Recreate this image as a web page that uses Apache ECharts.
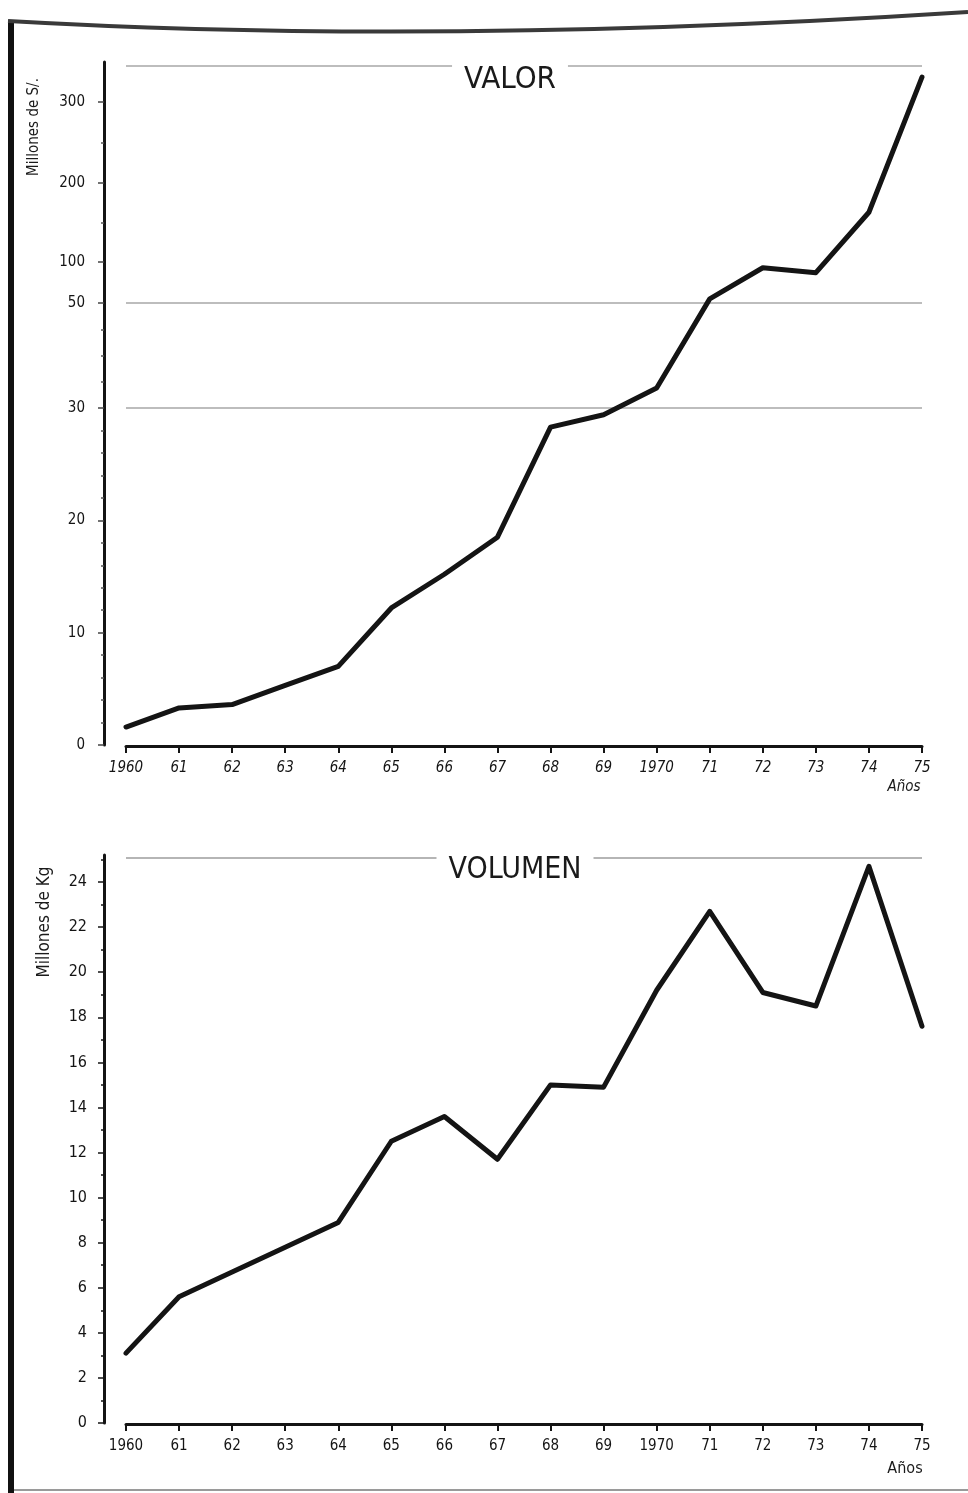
<!DOCTYPE html>
<html>
<head>
<meta charset="utf-8">
<script src="https://cdn.jsdelivr.net/npm/echarts@6/dist/echarts.min.js"></script>
<style>
  html, body { margin: 0; padding: 0; background: #ffffff; }
  #chart { width: 968px; height: 1493px; }
</style>
</head>
<body>
<div id="chart"></div>
<script>
// ---- Data ----
const years = [1960, 1961, 1962, 1963, 1964, 1965, 1966, 1967, 1968, 1969, 1970, 1971, 1972, 1973, 1974, 1975];
const xTickLabels = ['1960', '61', '62', '63', '64', '65', '66', '67', '68', '69', '1970', '71', '72', '73', '74', '75'];
// Valor (millones de S/.)
const valor = [1.6, 3.3, 3.6, 5.3, 7.0, 12.2, 15.2, 18.5, 28.3, 29.4, 33.8, 55, 93, 87, 163, 331];
// Volumen (millones de Kg)
const volumen = [3.1, 5.6, 6.7, 7.8, 8.9, 12.5, 13.6, 11.7, 15.0, 14.9, 19.2, 22.7, 19.1, 18.5, 24.7, 17.6];
// Tick labels
const valorTicks = [0, 10, 20, 30, 50, 100, 200, 300];
const valorMinorTicks = [2, 4, 6, 8, 12, 14, 16, 18, 22, 24, 26, 28, 35, 40, 45, 150, 250];
const valorRefLines = [30, 50];
const volumenTicks = [0, 2, 4, 6, 8, 10, 12, 14, 16, 18, 20, 22, 24];
const volumenMinorTicks = [1, 3, 5, 7, 9, 11, 13, 15, 17, 19, 21, 23, 25];

// ---- Broken (piecewise linear) scale of the VALOR axis ----
// [value, axis unit] breakpoints
const valorScale = [[0, 0], [30, 337], [50, 442], [100, 483], [200, 562], [300, 643], [350, 683]];
function T(v) {
  for (let i = 1; i < valorScale.length; i++) {
    const a = valorScale[i - 1], b = valorScale[i];
    if (v <= b[0] || i === valorScale.length - 1) {
      return a[1] + (v - a[0]) * (b[1] - a[1]) / (b[0] - a[0]);
    }
  }
}
const valorAxisMax = 683;
const valorTopLine = 679;

const chart = echarts.init(document.getElementById('chart'), null, { renderer: 'canvas' });
const FONT = "'DejaVu Sans Condensed', 'DejaVu Sans', sans-serif";
const INK = '#141414';

function xAxisCfg(gridIndex, italic) {
  return {
    type: 'value', gridIndex, min: 1960, max: 1975, interval: 1, offset: 1,
    axisLine: { show: true, onZero: false, lineStyle: { color: INK, width: 3 } },
    axisTick: { show: true, length: 7, lineStyle: { color: INK, width: 2 } },
    axisLabel: {
      color: INK, fontFamily: FONT, fontSize: 15, margin: 15,
      fontStyle: italic ? 'italic' : 'normal',
      formatter: v => xTickLabels[Math.round(v) - 1960] || ''
    },
    splitLine: { show: false }
  };
}

const valorTickUnits = valorTicks.map(T);

const option = {
  animation: false,
  backgroundColor: '#ffffff',
  grid: [
    { left: 126, right: 46, top: 62, height: 683 },
    { left: 126, right: 46, top: 855, height: 568 }
  ],
  xAxis: [xAxisCfg(0, true), xAxisCfg(1, false)],
  yAxis: [
    {
      type: 'value', gridIndex: 0, position: 'left', min: 0, max: valorAxisMax, offset: 22,
      axisLine: { show: true, onZero: false, lineStyle: { color: INK, width: 3 } },
      axisTick: { show: true, length: 6, customValues: valorTickUnits, lineStyle: { color: '#444', width: 1.5 } },
      axisLabel: {
        color: INK, fontFamily: FONT, fontSize: 15, margin: 19,
        customValues: valorTickUnits,
        formatter: v => {
          let best = 0, bd = Infinity;
          valorTickUnits.forEach((u, i) => { const d = Math.abs(u - v); if (d < bd) { bd = d; best = i; } });
          return String(valorTicks[best]);
        }
      },
      splitLine: { show: false }
    },
    {
      type: 'value', gridIndex: 0, position: 'left', min: 0, max: valorAxisMax, offset: 22,
      axisLine: { show: false },
      axisTick: { show: true, length: 3, customValues: valorMinorTicks.map(T), lineStyle: { color: '#555', width: 1.5 } },
      axisLabel: { show: false },
      splitLine: { show: false }
    },
    {
      type: 'value', gridIndex: 1, position: 'left', min: 0, max: 25.2, offset: 22,
      axisLine: { show: true, onZero: false, lineStyle: { color: INK, width: 3 } },
      axisTick: { show: true, length: 6, customValues: volumenTicks, lineStyle: { color: INK, width: 1.5 } },
      axisLabel: { color: INK, fontFamily: FONT, fontSize: 16, margin: 17, customValues: volumenTicks },
      splitLine: { show: false }
    },
    {
      type: 'value', gridIndex: 1, position: 'left', min: 0, max: 25.2, offset: 22,
      axisLine: { show: false },
      axisTick: { show: true, length: 3, customValues: volumenMinorTicks, lineStyle: { color: INK, width: 1.5 } },
      axisLabel: { show: false },
      splitLine: { show: false }
    }
  ],
  series: [
    {
      name: 'Valor', type: 'line', xAxisIndex: 0, yAxisIndex: 0,
      data: years.map((y, i) => [y, T(valor[i])]),
      symbol: 'none', z: 5,
      lineStyle: { color: INK, width: 5, join: 'round', cap: 'round' },
      markLine: {
        silent: true, symbol: 'none', label: { show: false },
        lineStyle: { color: '#bdbdbd', width: 2, type: 'solid' },
        data: valorRefLines.map(v => ({ yAxis: T(v) })).concat([{ yAxis: valorTopLine }])
      }
    },
    {
      name: 'Volumen', type: 'line', xAxisIndex: 1, yAxisIndex: 2,
      data: years.map((y, i) => [y, volumen[i]]),
      symbol: 'none', z: 5,
      lineStyle: { color: INK, width: 5, join: 'round', cap: 'round' },
      markLine: {
        silent: true, symbol: 'none', label: { show: false },
        lineStyle: { color: '#b5b5b5', width: 2, type: 'solid' },
        data: [{ yAxis: 25.1 }]
      }
    }
  ],
  graphic: [
    // page frame (scan edges)
    { type: 'rect', shape: { x: 8, y: 20, width: 6, height: 1473 }, style: { fill: '#111' }, z: 100 },
    { type: 'bezierCurve', shape: { x1: 8, y1: 21, cpx1: 440, cpy1: 46, x2: 968, y2: 12 }, style: { stroke: '#3a3a3a', lineWidth: 4, fill: null }, z: 100 },
    { type: 'line', shape: { x1: 14, y1: 1490, x2: 968, y2: 1490 }, style: { stroke: '#9a9a9a', lineWidth: 2 }, z: 100 },
    // titles
    { type: 'text', x: 510, y: 80, z: 100,
      style: { text: 'VALOR', fontFamily: FONT, fontSize: 31, fill: '#1a1a1a', align: 'center', verticalAlign: 'middle',
               backgroundColor: '#ffffff', padding: [2, 12] } },
    { type: 'text', x: 515, y: 870, z: 100,
      style: { text: 'VOLUMEN', fontFamily: FONT, fontSize: 30, fill: '#1a1a1a', align: 'center', verticalAlign: 'middle',
               backgroundColor: '#ffffff', padding: [2, 12] } },
    // axis names
    { type: 'text', x: 34, y: 127, rotation: Math.PI / 2, z: 100,
      style: { text: 'Millones de S/.', fontFamily: FONT, fontSize: 15, fill: '#1a1a1a', align: 'center', verticalAlign: 'middle' } },
    { type: 'text', x: 45, y: 922, rotation: Math.PI / 2, z: 100,
      style: { text: 'Millones de Kg', fontFamily: FONT, fontSize: 17, fill: '#1a1a1a', align: 'center', verticalAlign: 'middle' } },
    { type: 'text', x: 904, y: 787, z: 100,
      style: { text: 'Años', fontFamily: FONT, fontSize: 15, fontStyle: 'italic', fill: '#1a1a1a', align: 'center', verticalAlign: 'middle' } },
    { type: 'text', x: 905, y: 1469, z: 100,
      style: { text: 'Años', fontFamily: FONT, fontSize: 16, fill: '#1a1a1a', align: 'center', verticalAlign: 'middle' } }
  ]
};
chart.setOption(option);
</script>
</body>
</html>
